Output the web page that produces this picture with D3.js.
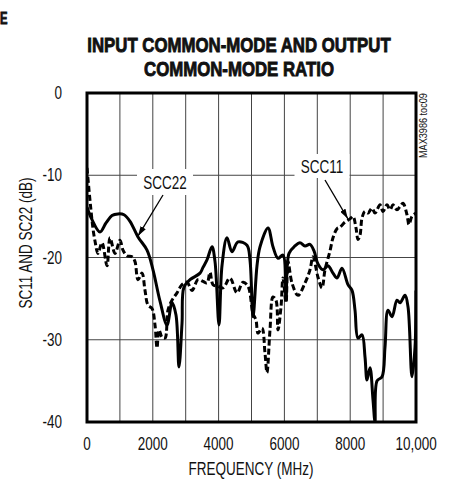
<!DOCTYPE html>
<html lang="en">
<head>
<meta charset="UTF-8">
<title>Input common-mode and output common-mode ratio</title>
<script src="https://d3js.org/d3.v7.min.js"></script>
<style>
    body { margin: 0; background: #fff; }
    svg text { font-family: "Liberation Sans", Arial, sans-serif; fill: #111; }
    .grid line { stroke: #444; stroke-width: 1; }
    .heavy { stroke: #111; stroke-width: 0.9; }
</style>
</head>
<body>
<div id="chart"></div>
<script>
// values
const freqTicks = [0, 2000, 4000, 6000, 8000, 10000];
const freqTickLabels = ["0", "2000", "4000", "6000", "8000", "10,000"];
const dbTicks = [0, -10, -20, -30, -40];

const scc22Freq = [0, 152, 395, 578, 760, 942, 1125, 1307, 1550, 1824, 2006, 2219, 2432, 2584, 2705, 2796, 2888, 2948,
    3131, 3435, 3526, 3647, 3799, 3891, 4012, 4103, 4255, 4407, 4590, 4863, 4954, 5046, 5167, 5258, 5502, 5653, 5805,
    5957, 6049, 6140, 6322, 6474, 6626, 6778, 6900, 7021, 7173, 7325, 7477, 7599, 7751, 7933, 8055, 8146, 8237, 8359,
    8450, 8511, 8602, 8693, 8754, 8815, 8967, 9058, 9149, 9271, 9422, 9514, 9666, 9757, 9878, 9970, 10000];
const scc22Db = [-13.9, -15.4, -16.9, -15.8, -14.9, -14.7, -14.8, -15.6, -17.5, -19.1, -21.5, -25.3, -28.2, -25.5, -27.0, -33.3, -28.0, -23.6,
    -22.7, -21.9, -21.2, -20.3, -18.7, -20.5, -28.2, -21.0, -17.6, -19.3, -18.1, -18.5, -20.3, -27.2, -21.0, -18.7, -16.4, -18.7, -20.1,
    -19.7, -25.2, -19.5, -18.6, -18.2, -18.6, -18.4, -19.2, -20.8, -21.5, -21.0, -21.9, -22.5, -21.3, -23.3, -24.0, -26.4, -29.8, -29.4,
    -32.1, -34.9, -33.4, -37.3, -40.0, -35.0, -34.5, -30.9, -26.4, -27.2, -25.2, -25.5, -24.6, -26.0, -34.5, -30.9, -24.0];

const scc11Freq = [0, 61, 122, 182, 243, 334, 456, 608, 699, 851, 1003, 1094, 1216, 1368, 1459, 1550, 1672, 1763, 1854,
    1976, 2067, 2128, 2188, 2280, 2371, 2462, 2584, 2736, 2888, 3040, 3191, 3374, 3526, 3647, 3739, 3830, 3982, 4134,
    4347, 4559, 4742, 4894, 5046, 5137, 5198, 5319, 5410, 5471, 5562, 5653, 5745, 5805, 5897, 5957, 6049, 6110, 6231,
    6413, 6626, 6778, 6869, 7021, 7143, 7234, 7386, 7477, 7599, 7690, 7842, 7994, 8085, 8176, 8237, 8298, 8359, 8450,
    8541, 8663, 8754, 8906, 8997, 9119, 9210, 9301, 9422, 9514, 9605, 9726, 9787, 9878, 10000];
const scc11Db = [-9.1, -11.8, -14.3, -16.5, -18.0, -19.5, -18.2, -21.0, -17.6, -19.5, -17.9, -19.1, -19.8, -19.9, -20.5, -22.7, -21.9, -24.0, -25.8,
    -26.2, -28.2, -31.0, -28.8, -29.7, -29.8, -26.4, -25.2, -24.3, -23.3, -23.0, -24.0, -22.7, -22.9, -23.1, -21.8, -23.3, -23.5, -23.7,
    -22.5, -24.3, -23.0, -23.5, -26.8, -27.6, -29.2, -28.6, -31.6, -34.0, -28.8, -24.8, -25.2, -28.8, -26.0, -22.5, -25.5, -20.5, -23.1,
    -24.6, -23.1, -21.5, -19.9, -22.4, -23.7, -21.5, -19.2, -17.6, -16.5, -16.3, -15.7, -15.3, -15.0, -16.4, -17.8, -17.3, -15.2, -14.4,
    -14.6, -14.0, -14.6, -13.6, -14.4, -13.6, -14.2, -13.6, -14.2, -13.8, -13.4, -14.8, -16.0, -15.0, -14.6];

const W = 449, H = 482;
const margin = { top: 93, left: 87 };
const plotW = 329, plotH = 329;
const squeeze = 0.75; // narrow face look

const svg = d3.select("#chart").append("svg")
    .attr("width", W)
    .attr("height", H);

const x = d3.scaleLinear().domain([0, 10000]).range([margin.left, margin.left + plotW]);
const y = d3.scaleLinear().domain([0, -40]).range([margin.top, margin.top + plotH]);

// helper for the condensed looking labels
function label(px, py, txt, opts) {
    opts = opts || {};
    const g = svg.append("g")
        .attr("transform", "translate(" + px + "," + py + ")" + (opts.rotate ? " rotate(" + opts.rotate + ")" : "") +
            " scale(" + (opts.sx || squeeze) + ",1)");
    return g.append("text")
        .attr("text-anchor", opts.anchor || "middle")
        .attr("font-size", opts.size || 18)
        .attr("font-weight", opts.weight || "normal")
        .attr("class", opts.cls || null)
        .text(txt);
}

// clipped heading letter at the very top left
label(0, 24, "E", { anchor: "start", size: 16, weight: "bold", sx: 0.7, cls: "heavy" });

// title
label(239, 52, "INPUT COMMON-MODE AND OUTPUT", { size: 21, weight: "bold", sx: 0.8, cls: "heavy" });
label(239, 76, "COMMON-MODE RATIO", { size: 21, weight: "bold", sx: 0.8, cls: "heavy" });

// grid
const grid = svg.append("g").attr("class", "grid");
grid.selectAll(".v").data(d3.range(1000, 10000, 1000)).join("line")
    .attr("x1", d => x(d)).attr("x2", d => x(d))
    .attr("y1", y(0)).attr("y2", y(-40));
grid.selectAll(".h").data(dbTicks.slice(1, -1)).join("line")
    .attr("x1", x(0)).attr("x2", x(10000))
    .attr("y1", d => y(d)).attr("y2", d => y(d));

// tick labels
freqTicks.forEach((t, i) => label(x(t), 450, freqTickLabels[i]));
dbTicks.forEach(t => label(62, y(t) + 6, String(t), { anchor: "end" }));

// axis titles
label(251, 475, "FREQUENCY (MHz)");
label(32, 243, "SC11 AND SC22 (dB)", { rotate: -90 });
label(427, 158, "MAX3986 toc09", { rotate: -90, anchor: "start", size: 11, sx: 0.83 });

// curves
svg.append("clipPath").attr("id", "plotClip")
    .append("rect")
    .attr("x", x(0)).attr("y", y(0))
    .attr("width", plotW).attr("height", plotH);

const line = d3.line()
    .x(d => x(d[0]))
    .y(d => y(d[1]))
    .curve(d3.curveCatmullRom.alpha(0.5));

const curves = svg.append("g").attr("clip-path", "url(#plotClip)");

curves.append("path")
    .datum(d3.zip(scc22Freq, scc22Db))
    .attr("d", line)
    .attr("fill", "none")
    .attr("stroke", "#000")
    .attr("stroke-width", 3)
    .attr("stroke-linejoin", "round");

curves.append("path")
    .datum(d3.zip(scc11Freq, scc11Db))
    .attr("d", line)
    .attr("fill", "none")
    .attr("stroke", "#000")
    .attr("stroke-width", 3)
    .attr("stroke-dasharray", "6,3");

// frame
svg.append("rect")
    .attr("x", x(0)).attr("y", y(0))
    .attr("width", plotW).attr("height", plotH)
    .attr("fill", "none")
    .attr("stroke", "#000")
    .attr("stroke-width", 3);

// callouts
svg.append("defs").append("marker")
    .attr("id", "arrow")
    .attr("viewBox", "0 0 10 6")
    .attr("refX", 10).attr("refY", 3)
    .attr("markerWidth", 10).attr("markerHeight", 6)
    .attr("markerUnits", "userSpaceOnUse")
    .attr("orient", "auto")
    .append("path")
    .attr("d", "M0,0 L10,3 L0,6 Z")
    .attr("fill", "#000");

function callout(cx, cy, bw, bh, txt, from, to) {
    svg.append("rect")
        .attr("x", cx - bw / 2).attr("y", cy - bh / 2)
        .attr("width", bw).attr("height", bh)
        .attr("fill", "#fff");
    label(cx, cy + 6.5, txt);
    svg.append("line")
        .attr("x1", from[0]).attr("y1", from[1])
        .attr("x2", to[0]).attr("y2", to[1])
        .attr("stroke", "#000")
        .attr("stroke-width", 1.3)
        .attr("marker-end", "url(#arrow)");
}

callout(165, 182, 56, 26, "SCC22", [163, 195], [x(1550), y(-17.4)]);
callout(322, 166, 55, 24, "SCC11", [325, 180], [x(7930), y(-15.3)]);
</script>
</body>
</html>
